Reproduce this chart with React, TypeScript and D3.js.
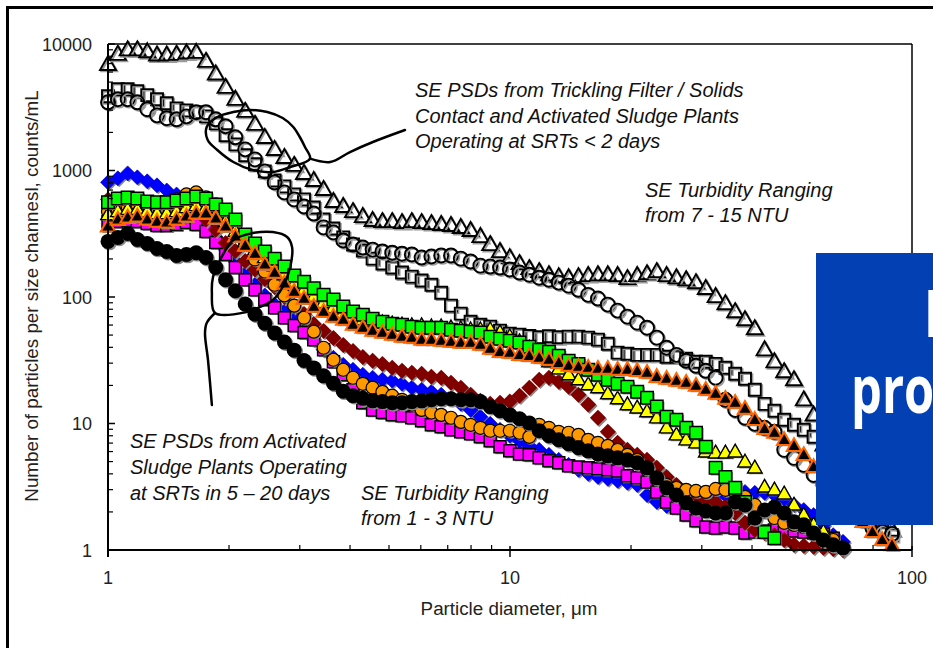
import React from "react";
import * as d3 from "d3";

// Particle counter channel diameters (µm)
const diameterUm = [
  1.0, 1.058, 1.119, 1.183, 1.252, 1.324, 1.4, 1.481, 1.567, 1.657,
  1.753, 1.854, 1.961, 2.074, 2.194, 2.321, 2.455, 2.597, 2.747, 2.905,
  3.073, 3.25, 3.438, 3.637, 3.847, 4.069, 4.304, 4.552, 4.815, 5.093,
  5.387, 5.698, 6.027, 6.375, 6.743, 7.132, 7.544, 7.98, 8.44, 8.928,
  9.443, 9.988, 10.56, 11.17, 11.82, 12.5, 13.22, 13.99, 14.8, 15.65,
  16.55, 17.51, 18.52, 19.59, 20.72, 21.92, 23.18, 24.52, 25.94, 27.43,
  29.02, 30.69, 32.47, 34.34, 36.32, 38.42, 40.64, 42.98, 45.47, 48.09,
  50.87, 53.8, 56.91, 60.2, 63.67, 67.35, 71.24, 75.35, 79.7, 84.3,
  89.17,
];

// SRT < 2 days plants (open markers)
const srtShortTriangles = [
  6900, 8300, 9000, 9000, 8700, 8200, 8200, 8300, 8500, 8600,
  7300, 5800, 4550, 3660, 2940, 2320, 1830, 1470, 1270, 1100,
  950, 836, 709, 570, 520, 474, 433, 403, 395, 395,
  388, 395, 388, 381, 375, 368, 355, 336, 301, 260,
  229, 205, 184, 168, 159, 150, 145, 142, 145, 148,
  150, 150, 148, 140, 148, 153, 159, 148, 142, 137,
  130, 117, 101, 88.7, 76.7, 66.2, 56.2, 38.3, 30.8, 25.7,
  22.2, 15.4, 11.7, 6.78, 4.71, 3.58, 2.72, 2.27, 1.89, 1.67,
  1.44,
];
const srtShortSquares = [
  3860, 4390, 4390, 4230, 3940, 3660, 3400, 3100, 2990, 2890,
  2680, 2360, 1900, 1610, 1320, 1120, 985, 836, 749, 647,
  591, 510, 410, 348, 296, 260, 233, 201, 184, 171,
  156, 145, 135, 125, 108, 85.5, 73.9, 63.8, 60.4, 58.3,
  54.2, 51.3, 50.4, 49.2, 48.1, 48.9, 48.0, 48.6, 48.6, 47.7,
  46.0, 42.7, 36.3, 35.6, 34.9, 34.9, 34.9, 33.7, 33.7, 32.5,
  30.8, 30.8, 29.6, 27.6, 24.7, 22.6, 18.5, 14.3, 12.6, 10.7,
  9.77, 8.92, 7.85, 6.54, 5.16, 3.92, 2.49, 1.89, 1.67, 1.44,
  1.31,
];
const srtShortCircles = [
  3460, 3660, 3660, 3460, 3050, 2730, 2590, 2540, 2680, 2890,
  2890, 2540, 2240, 1830, 1470, 1225, 985, 806, 671, 591,
  520, 457, 355, 324, 280, 260, 246, 237, 229, 224,
  220, 217, 205, 209, 213, 213, 201, 191, 177, 174,
  171, 165, 156, 150, 142, 137, 130, 123, 114, 104,
  97.2, 87.1, 78.1, 69.9, 62.7, 57.2, 47.7, 39.7, 34.9, 31.3,
  28.6, 26.1, 23.0, 15.4, 12.8, 11.1, 9.94, 9.25, 8.6, 6.19,
  5.35, 4.71, 3.92, 3.27, 2.72, 2.36, 2.07, 1.73, 1.49, 1.39,
  1.34,
];

// SRT 5-20 days plants (filled markers)
const blueDiamonds = [
  806, 867, 949, 883, 821, 763, 696, 647, 539, 449,
  375, 296, 237, 191, 153, 125, 103, 87.1, 76.7, 66.2,
  55.2, 46.0, 38.3, 33.1, 29.1, 26.6, 24.3, 23.0, 22.2, 21.8,
  20.6, 19.2, 18.5, 17.8, 16.9, 15.7, 14.3, 12.8, 11.3, 9.94,
  8.92, 8.0, 7.3, 6.66, 6.19, 5.65, 5.16, 4.71, 4.3, 4.0,
  3.78, 3.65, 3.52, 3.4, 3.27, 2.72, 2.4, 2.23, 2.19, 2.31,
  2.49, 2.58, 2.63, 2.72, 2.83, 2.88, 2.83, 2.83, 2.72, 2.53,
  2.27, 2.07, 1.89, 1.58, 1.31, 1.16,
];
const magentaSquares = [
  395, 395, 403, 395, 381, 368, 368, 375, 388, 375,
  330, 270, 217, 171, 137, 114, 95.4, 82.4, 68.6, 59.4,
  52.3, 46.0, 38.3, 30.8, 24.3, 18.5, 14.6, 12.8, 12.2, 11.7,
  11.5, 11.1, 10.5, 9.77, 9.42, 8.92, 8.6, 8.29, 7.85, 7.3,
  6.54, 6.08, 5.75, 5.65, 5.35, 5.07, 4.89, 4.63, 4.54, 4.46,
  4.38, 4.3, 4.22, 3.86, 3.72, 3.45, 2.88, 2.4, 2.15, 1.89,
  1.7, 1.52, 1.49, 1.52, 1.49, 1.36, 1.39, 1.41, 1.44, 1.44,
  1.41, 1.39, 1.36, 1.34, 1.24,
];
const maroonDiamonds = [
  591, 570, 539, 520, 510, 510, 520, 529, 529, 492,
  410, 340, 267, 231, 193, 165, 139, 120, 100, 84.9,
  73.4, 61.2, 53.9, 47.4, 41.8, 37.4, 33.5, 31.3, 29.6, 27.6,
  26.1, 25.2, 24.7, 23.4, 23.0, 21.0, 19.2, 16.9, 15.1, 14.3,
  14.6, 14.9, 16.6, 19.2, 22.2, 23.0, 21.4, 19.5, 16.9, 14.1,
  11.1, 8.6, 7.04, 6.19, 5.65, 5.16, 4.46, 3.78, 3.27, 2.88,
  2.63, 2.49, 2.4, 2.19, 1.96, 1.64, 1.44, 1.36, 1.31, 1.2,
  1.1, 1.08, 1.06, 1.04, 1.02, 1.0,
];
const yellowTriangles = [
  449, 474, 492, 492, 474, 457, 457, 474, 510, 529,
  510, 449, 395, 330, 275, 237, 205, 177, 150, 128,
  114, 101, 90.3, 82.4, 75.3, 69.9, 66.2, 63.8, 62.7, 61.5,
  60.4, 59.4, 59.4, 58.3, 58.3, 57.2, 56.2, 55.2, 55.2, 55.2,
  52.3, 48.6, 44.4, 39.7, 34.9, 30.8, 27.1, 24.3, 22.2, 20.3,
  19.2, 17.2, 15.7, 14.1, 13.3, 12.4, 11.1, 9.25, 8.14, 7.43,
  7.04, 5.97, 5.86, 5.86, 5.97, 4.97, 4.46, 3.15, 2.99, 2.78,
  2.27, 1.89, 1.58, 1.39,
];
const greenSquares = [
  560, 602, 613, 602, 570, 560, 560, 580, 602, 624,
  602, 539, 492, 410, 312, 265, 229, 201, 174, 148,
  132, 117, 104, 95.4, 84.0, 76.7, 72.5, 67.4, 63.8, 61.5,
  60.4, 58.3, 57.2, 57.2, 57.2, 55.2, 54.2, 53.2, 52.3, 48.6,
  46.8, 45.2, 43.6, 40.4, 38.3, 36.9, 34.3, 31.3, 29.6, 26.6,
  24.3, 22.2, 20.6, 19.5, 17.8, 16.0, 13.6, 11.3, 10.7, 9.25,
  8.45, 6.54, 4.46, 3.78, 3.1, 2.4, 1.79, 1.39, 1.24,
];
const orangeTriangles = [
  361, 410, 425, 433, 410, 395, 388, 410, 433, 457,
  457, 418, 361, 301, 255, 220, 181, 156, 128, 110,
  97.2, 84.0, 76.7, 69.9, 66.2, 60.4, 57.2, 54.2, 52.3, 50.4,
  48.6, 47.7, 46.0, 46.0, 45.2, 44.4, 43.6, 43.6, 42.0, 39.0,
  36.9, 36.3, 34.9, 34.3, 33.1, 31.9, 30.2, 28.6, 28.1, 27.6,
  27.1, 27.1, 26.6, 26.6, 26.1, 25.2, 23.4, 22.6, 21.8, 21.0,
  19.9, 18.5, 17.2, 15.7, 14.6, 13.1, 10.7, 9.08, 8.45, 7.43,
  6.66, 5.65, 4.54, 3.58, 2.88, 2.36, 2.0, 1.67, 1.39, 1.2,
  1.09,
];
const orangeCircles = [
  474, 492, 520, 539, 539, 539, 560, 591, 647, 671,
  613, 539, 449, 342, 260, 198, 159, 125, 103, 85.5,
  68.6, 53.2, 39.7, 31.9, 26.6, 23.0, 20.6, 19.2, 17.8, 16.6,
  15.4, 14.1, 12.8, 12.2, 11.7, 11.1, 10.3, 9.77, 9.25, 8.76,
  8.76, 8.76, 8.45, 7.85, 9.77, 9.25, 8.6, 8.45, 8.14, 7.43,
  7.04, 6.66, 6.19, 5.65, 5.16, 4.3, 3.58, 3.27, 3.1, 2.99,
  2.93, 2.88, 3.04, 2.99, 2.88, 2.63, 2.27, 2.0, 1.79, 1.64,
  1.58, 1.52, 1.44, 1.31, 1.2,
];
const blackCircles = [
  275, 296, 318, 285, 265, 242, 229, 213, 217, 224,
  205, 171, 137, 112, 88.0, 73.0, 62.0, 52.0, 44.0, 38.0,
  31.5, 27.5, 23.8, 20.8, 18.0, 16.6, 15.8, 15.1, 14.9, 14.6,
  14.6, 14.9, 15.1, 15.4, 15.7, 15.7, 15.4, 15.4, 14.9, 13.6,
  12.6, 11.7, 10.9, 10.1, 8.76, 8.0, 7.43, 6.92, 6.43, 6.08,
  5.75, 5.55, 5.35, 5.16, 4.89, 4.46, 3.72, 3.1, 2.72, 2.36,
  2.15, 2.04, 1.96, 1.96, 2.4, 2.27, 1.79, 2.07, 2.19, 1.96,
  1.67, 1.58, 1.36, 1.2, 1.1, 1.04,
];

// Axis ticks
const xMajorTicks = [1, 10, 100];
const xTickLabels = ["1", "10", "100"];
const yMajorTicks = [1, 10, 100, 1000, 10000];
const yTickLabels = ["1", "10", "100", "1000", "10000"];

// Hand-drawn callout outlines, in data coordinates [diameter, count]
const calloutUpperTail: [number, number][] = [
  [5.48, 2090], [4.56, 1680], [4.0, 1400], [3.57, 1167], [3.18, 1240],
];
const calloutUpperLoop: [number, number][] = [
  [3.18, 1240], [3.09, 1534], [3.0, 1840], [2.89, 2207], [2.72, 2600],
  [2.49, 2901], [2.26, 3009], [2.05, 2901], [1.87, 2648], [1.76, 2207],
  [1.77, 1742], [1.87, 1453], [2.05, 1167], [2.29, 1009], [2.57, 973],
  [2.84, 1066],
];
const calloutLowerTail: [number, number][] = [
  [1.846, 74.7], [1.76, 62.3], [1.743, 51.9], [1.773, 31.8], [1.813, 14.0],
];
const calloutLowerLoop: [number, number][] = [
  [1.846, 74.7], [2.217, 76.1], [2.388, 83.4], [2.57, 94.7], [2.72, 120],
  [2.84, 173], [2.87, 248], [2.79, 298], [2.57, 326], [2.29, 320],
  [2.05, 282], [1.9, 196], [1.825, 144], [1.813, 108],
];

type Shape = "tri" | "sq" | "dia" | "circ";

function markerPath(shape: Shape, s: number): string {
  if (shape === "tri") {
    const h = s * 0.88;
    return `M0,${-h * 0.6}L${s / 2},${h * 0.4}L${-s / 2},${h * 0.4}Z`;
  }
  if (shape === "sq") return `M${-s / 2},${-s / 2}h${s}v${s}h${-s}Z`;
  if (shape === "dia") return `M0,${-s / 2}L${s / 2},0L0,${s / 2}L${-s / 2},0Z`;
  const r = s / 2;
  return `M${r},0A${r},${r} 0 1,1 ${-r},0A${r},${r} 0 1,1 ${r},0Z`;
}

const FONT = "'Liberation Sans', Arial, Helvetica, sans-serif";

export default function App() {
  const x = d3.scaleLog().domain([1, 100]).range([108, 912]);
  const y = d3.scaleLog().domain([1, 10000]).range([550, 44]);

  const series = [
    { key: "t", data: srtShortTriangles, shape: "tri" as Shape, size: 16, fill: "none", stroke: "#000", sw: 1.9 },
    { key: "s", data: srtShortSquares, shape: "sq" as Shape, size: 12, fill: "none", stroke: "#000", sw: 1.9 },
    { key: "c", data: srtShortCircles, shape: "circ" as Shape, size: 14, fill: "none", stroke: "#000", sw: 1.9 },
    { key: "b", data: blueDiamonds, shape: "dia" as Shape, size: 15, fill: "#0000FF", stroke: "#0000B0", sw: 0.6 },
    { key: "m", data: magentaSquares, shape: "sq" as Shape, size: 12, fill: "#FF00FF", stroke: "#000", sw: 1.5 },
    { key: "r", data: maroonDiamonds, shape: "dia" as Shape, size: 16, fill: "#800000", stroke: "none", sw: 0 },
    { key: "oc", data: orangeCircles, shape: "circ" as Shape, size: 13, fill: "#FF9900", stroke: "#000", sw: 1.2 },
    { key: "y", data: yellowTriangles, shape: "tri" as Shape, size: 14.5, fill: "#FFFF00", stroke: "#000", sw: 1.4 },
    { key: "g", data: greenSquares, shape: "sq" as Shape, size: 12.5, fill: "#00FF00", stroke: "#000", sw: 1.5 },
    { key: "ot", data: orangeTriangles, shape: "tri" as Shape, size: 14.5, fill: "#000", stroke: "#FF6600", sw: 2 },
    { key: "k", data: blackCircles, shape: "circ" as Shape, size: 15, fill: "#000", stroke: "none", sw: 0 },
  ];

  const xMinor: number[] = [];
  [1, 10].forEach((d) => { for (let k = 2; k <= 9; k++) xMinor.push(d * k); });
  const yMinor: number[] = [];
  [1, 10, 100, 1000].forEach((d) => { for (let k = 2; k <= 9; k++) yMinor.push(d * k); });

  const line = d3.line<[number, number]>().x((d) => x(d[0])).y((d) => y(d[1])).curve(d3.curveCatmullRom.alpha(0.5));
  const loop = d3.line<[number, number]>().x((d) => x(d[0])).y((d) => y(d[1])).curve(d3.curveCatmullRomClosed.alpha(0.5));

  const annStyle: React.CSSProperties = { fontFamily: FONT, fontStyle: "italic", fontSize: 20, fill: "#111" };

  return (
    <svg width={933} height={648} style={{ position: "absolute", left: 0, top: 0, display: "block", background: "#fff" }}>
      <rect x={0} y={0} width={933} height={648} fill="#fff" />
      <rect x={7.5} y={7.5} width={950} height={680} fill="none" stroke="#000" strokeWidth={3} />

      {/* plot frame */}
      <line x1={108} x2={912} y1={44} y2={44} stroke="#000" strokeWidth={1.5} />
      <line x1={912} x2={912} y1={44} y2={550} stroke="#000" strokeWidth={1.5} />

      {/* series, each marker with a soft grey drop shadow */}
      {series.map((s) => (
        <g key={s.key}>
          {s.data.map((v, i) => {
            const px = x(diameterUm[i]);
            const py = y(v);
            const d = markerPath(s.shape, s.size);
            return (
              <g key={i}>
                <path
                  transform={`translate(${px + 1.4},${py + 1.4})`}
                  d={d}
                  fill={s.fill === "none" ? "none" : "#8a8a8a"}
                  stroke={s.fill === "none" ? "#9a9a9a" : "none"}
                  strokeWidth={s.sw}
                />
                <path
                  transform={`translate(${px},${py})`}
                  d={d}
                  fill={s.fill}
                  stroke={s.stroke}
                  strokeWidth={s.sw}
                />
              </g>
            );
          })}
        </g>
      ))}

      {/* axes */}
      <line x1={108} x2={108} y1={44} y2={557} stroke="#000" strokeWidth={2} />
      <line x1={108} x2={912} y1={550} y2={550} stroke="#000" strokeWidth={2} />
      {xMajorTicks.map((t) => (
        <line key={"xM" + t} x1={x(t)} x2={x(t)} y1={546} y2={557} stroke="#000" strokeWidth={1.5} />
      ))}
      {xMinor.map((t) => (
        <line key={"xm" + t} x1={x(t)} x2={x(t)} y1={545} y2={550} stroke="#000" strokeWidth={1.2} />
      ))}
      {yMajorTicks.map((t) => (
        <line key={"yM" + t} x1={108} x2={115} y1={y(t)} y2={y(t)} stroke="#000" strokeWidth={1.5} />
      ))}
      {yMinor.map((t) => (
        <line key={"ym" + t} x1={108} x2={113} y1={y(t)} y2={y(t)} stroke="#000" strokeWidth={1.2} />
      ))}
      {xMajorTicks.map((t, i) => (
        <text key={"xl" + t} x={x(t)} y={584} textAnchor="middle" style={{ fontFamily: FONT, fontSize: 18, fill: "#222" }}>
          {xTickLabels[i]}
        </text>
      ))}
      {yMajorTicks.map((t, i) => (
        <text key={"yl" + t} x={92} y={y(t) + 6.5} textAnchor="end" style={{ fontFamily: FONT, fontSize: 18, fill: "#222" }}>
          {yTickLabels[i]}
        </text>
      ))}
      <text x={509} y={615} textAnchor="middle" style={{ fontFamily: FONT, fontSize: 18.8, fill: "#222" }}>
        Particle diameter, μm
      </text>
      <text transform="translate(38,296) rotate(-90)" textAnchor="middle" style={{ fontFamily: FONT, fontSize: 18.8, fill: "#222" }}>
        Number of particles per size channesl, counts/mL
      </text>

      {/* hand drawn callouts */}
      <g fill="none" stroke="#000" strokeWidth={2.5} strokeLinecap="round" strokeLinejoin="round">
        <path d={line(calloutUpperTail) || ""} />
        <path d={loop(calloutUpperLoop) || ""} />
        <path d={line(calloutLowerTail) || ""} />
        <path d={loop(calloutLowerLoop) || ""} />
      </g>

      {/* annotations */}
      <text style={annStyle}>
        <tspan x={415} y={97}>SE PSDs from Trickling Filter / Solids</tspan>
        <tspan x={415} y={122.5}>Contact and Activated Sludge Plants</tspan>
        <tspan x={415} y={148}>Operating at SRTs &lt; 2 days</tspan>
      </text>
      <text style={annStyle}>
        <tspan x={645} y={197}>SE Turbidity Ranging</tspan>
        <tspan x={645} y={222}>from 7 - 15 NTU</tspan>
      </text>
      <text style={annStyle}>
        <tspan x={130} y={447.5}>SE PSDs from Activated</tspan>
        <tspan x={130} y={473.5}>Sludge Plants Operating</tspan>
        <tspan x={130} y={499.5}>at SRTs in 5 – 20 days</tspan>
      </text>
      <text style={annStyle}>
        <tspan x={361} y={499.5}>SE Turbidity Ranging</tspan>
        <tspan x={361} y={524.5}>from 1 - 3 NTU</tspan>
      </text>

      {/* overlapping slide title box (cut off at the right edge, as in the source) */}
      <rect x={816} y={253} width={130} height={272} fill="#0340B4" />
      <g transform="translate(924,337) scale(0.74,1)">
        <text style={{ fontFamily: "'Open Sans', sans-serif", fontWeight: 700, fontSize: 66, fill: "#fff" }}>Particle</text>
      </g>
      <g transform="translate(851,413) scale(0.74,1)">
        <text style={{ fontFamily: "'Open Sans', sans-serif", fontWeight: 700, fontSize: 66, fill: "#fff" }}>process</text>
      </g>
    </svg>
  );
}
